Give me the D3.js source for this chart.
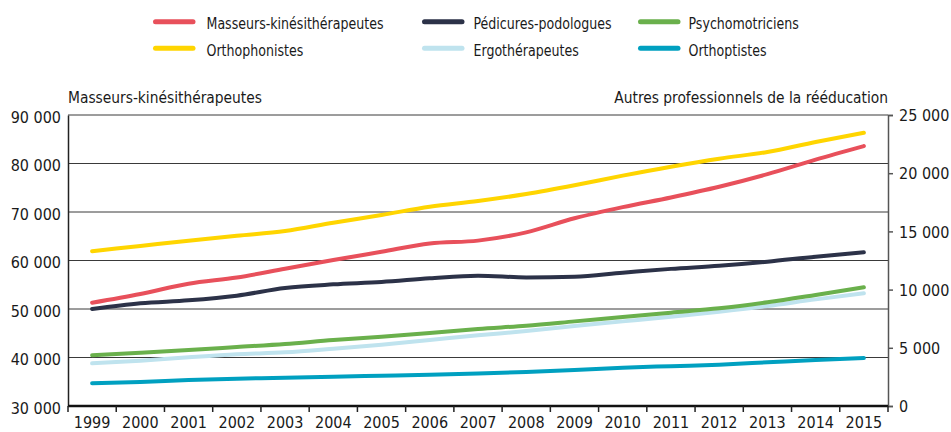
<!DOCTYPE html>
<html>
<head>
<meta charset="utf-8">
<script src="https://cdn.jsdelivr.net/npm/d3@7"></script>
<style>
  body { margin: 0; background: #fff; }
  svg text { font-family: "DejaVu Sans Condensed", "DejaVu Sans", sans-serif; fill: #1a1a1a; }
</style>
</head>
<body>
<svg id="chart" width="951" height="432"></svg>
<script>
// data
const years = d3.range(1999, 2016).map(String);
const masseurs   = [51300, 53100, 55200, 56500, 58300, 60100, 61800, 63500, 64100, 65800, 68700, 71000, 73000, 75200, 77800, 80800, 83600];
const orthophon  = [13300, 13750, 14200, 14630, 15030, 15750, 16410, 17120, 17610, 18210, 18960, 19790, 20560, 21250, 21820, 22680, 23480];
const pedicures  = [8330, 8820, 9080, 9480, 10140, 10450, 10650, 10970, 11200, 11050, 11110, 11450, 11780, 12050, 12400, 12830, 13200];
const psychomot  = [4360, 4580, 4810, 5070, 5330, 5670, 5950, 6270, 6620, 6900, 7270, 7650, 8020, 8390, 8910, 9540, 10200];
const ergo       = [3670, 3890, 4180, 4440, 4610, 4920, 5270, 5670, 6070, 6440, 6870, 7270, 7670, 8100, 8590, 9160, 9680];
const orthoptist = [1950, 2060, 2230, 2350, 2430, 2520, 2600, 2690, 2790, 2920, 3090, 3290, 3420, 3550, 3750, 3950, 4120];
const leftTicks  = [30000, 40000, 50000, 60000, 70000, 80000, 90000];
const rightTicks = [0, 5000, 10000, 15000, 20000, 25000];

const series = [
  { name: 'Masseurs-kinésithérapeutes', values: masseurs,   axis: 'left',  color: '#e8505b' },
  { name: 'Orthophonistes',             values: orthophon,  axis: 'right', color: '#ffd500' },
  { name: 'Pédicures-podologues',       values: pedicures,  axis: 'right', color: '#2c3248' },
  { name: 'Ergothérapeutes',            values: ergo,       axis: 'right', color: '#bfe3ee' },
  { name: 'Psychomotriciens',           values: psychomot,  axis: 'right', color: '#6ab04c' },
  { name: 'Orthoptistes',               values: orthoptist, axis: 'right', color: '#00a0c0' }
];
const legendOrder = ['Masseurs-kinésithérapeutes', 'Pédicures-podologues', 'Psychomotriciens',
                     'Orthophonistes', 'Ergothérapeutes', 'Orthoptistes'];

const svg = d3.select('#chart');
const mLeft = 68, mRight = 888, mTop = 115, mBottom = 406;

const x = d3.scaleBand().domain(years).range([mLeft, mRight]).padding(0);
const yL = d3.scaleLinear().domain([30000, 90000]).range([mBottom, mTop]);
const yR = d3.scaleLinear().domain([0, 25000]).range([mBottom, mTop]);
const fmt = v => d3.format(',')(v).replace(/,/g, ' ');

// narrow text a bit, the original uses a condensed face
function squeezed(sel, px, py, k) {
  return sel.attr('transform', `translate(${px},${py}) scale(${k},1)`);
}

// gridlines
svg.append('g')
  .selectAll('line')
  .data(leftTicks.slice(1))
  .enter().append('line')
    .attr('x1', mLeft).attr('x2', mRight)
    .attr('y1', d => yL(d)).attr('y2', d => yL(d))
    .attr('stroke', '#3a3a3a').attr('stroke-width', 1);

// left axis
const gL = svg.append('g').attr('transform', `translate(${mLeft},0)`)
  .call(d3.axisLeft(yL).tickValues(leftTicks).tickFormat(fmt).tickSize(0).tickPadding(7));
gL.select('.domain').attr('stroke', '#222').attr('stroke-width', 1.5);
gL.selectAll('text').style('font-size', '16px').attr('dy', '0.45em');

// right axis
const gR = svg.append('g').attr('transform', `translate(${mRight},0)`)
  .call(d3.axisRight(yR).tickValues(rightTicks).tickFormat(fmt).tickSize(5).tickPadding(6));
gR.select('.domain').attr('stroke', '#555').attr('stroke-width', 1.5);
gR.selectAll('.tick line').attr('stroke', '#555').attr('stroke-width', 1.5);
gR.selectAll('text').style('font-size', '16px').attr('text-anchor', 'start').attr('dy', '0.36em');

// x axis
svg.append('line')
  .attr('x1', mLeft).attr('x2', mRight)
  .attr('y1', mBottom).attr('y2', mBottom)
  .attr('stroke', '#111').attr('stroke-width', 2.5);
svg.append('g')
  .selectAll('line')
  .data(years.map(x).concat([x.range()[1]]))
  .enter().append('line')
    .attr('x1', d => d).attr('x2', d => d)
    .attr('y1', mBottom).attr('y2', mBottom + 6)
    .attr('stroke', '#222').attr('stroke-width', 1.5);
svg.append('g')
  .selectAll('text')
  .data(years)
  .enter().append('text')
    .attr('x', d => x(d) + x.bandwidth() / 2)
    .attr('y', 427.5)
    .attr('text-anchor', 'middle')
    .style('font-size', '16px')
    .text(d => d);

// axis titles
squeezed(svg.append('text'), mLeft, 103, 0.96)
  .style('font-size', '16px').text('Masseurs-kinésithérapeutes');
squeezed(svg.append('text'), mRight, 103, 0.96).attr('text-anchor', 'end')
  .style('font-size', '16px').text('Autres professionnels de la rééducation');

// lines
const cx = d => x(d) + x.bandwidth() / 2;
series.forEach(s => {
  const y = s.axis === 'left' ? yL : yR;
  const line = d3.line()
    .x((v, i) => cx(years[i]))
    .y(v => y(v))
    .curve(d3.curveMonotoneX);
  svg.append('path')
    .datum(s.values)
    .attr('d', line)
    .attr('fill', 'none')
    .attr('stroke', s.color)
    .attr('stroke-width', 4)
    .attr('stroke-linecap', 'round')
    .attr('stroke-linejoin', 'round');
});

// legend
const colX = [[155.5, 206.5], [424.5, 473.5], [640.5, 688.5]];
const rowY = [21.7, 48.3];
const lg = svg.append('g')
  .selectAll('g')
  .data(legendOrder)
  .enter().append('g')
    .attr('transform', (d, i) => `translate(0,${rowY[Math.floor(i / 3)]})`);
lg.append('line')
  .attr('x1', (d, i) => colX[i % 3][0]).attr('x2', (d, i) => colX[i % 3][0] + 37.5)
  .attr('y1', 0).attr('y2', 0)
  .attr('stroke', d => series.find(s => s.name === d).color)
  .attr('stroke-width', 5).attr('stroke-linecap', 'round');
lg.append('text')
  .each(function(d, i) { squeezed(d3.select(this), colX[i % 3][1], 7.3, 0.85); })
  .style('font-size', '16.5px')
  .text(d => d);
</script>
</body>
</html>
